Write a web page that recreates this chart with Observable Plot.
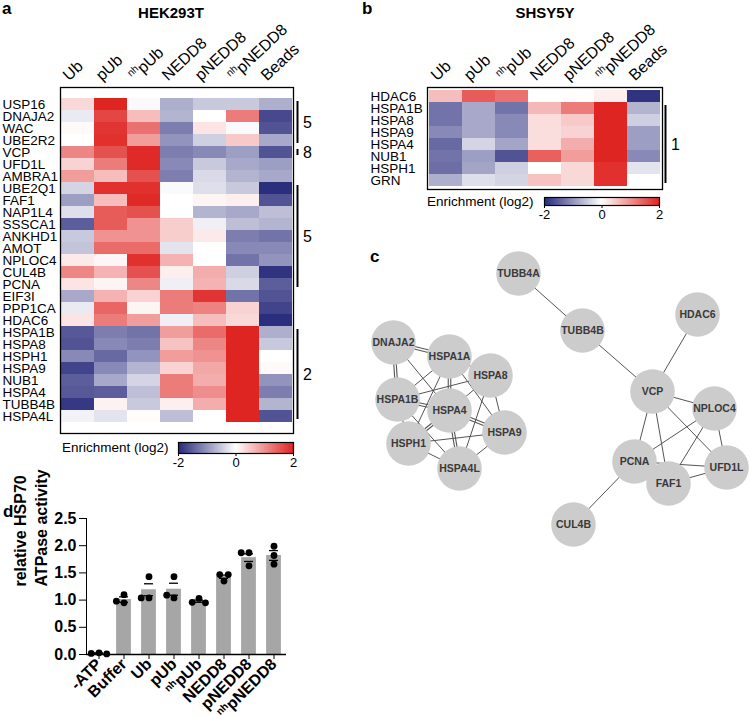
<!DOCTYPE html>
<html><head><meta charset="utf-8">
<script src="https://cdn.jsdelivr.net/npm/d3@7"></script>
<script src="https://cdn.jsdelivr.net/npm/@observablehq/plot@0.6"></script>
<style>
body{margin:0;background:#fff;}
#fig{position:relative;width:749px;height:716px;overflow:hidden;font-family:"Liberation Sans",Arial,Helvetica,sans-serif;color:#000;}
.plab{position:absolute;font-weight:bold;font-size:17px;line-height:17px;}
</style></head>
<body><div id="fig"></div>
<script>
// ---------- DATA ----------
const conditions = ["Ub","pUb","nhpUb","NEDD8","pNEDD8","nhpNEDD8","Beads"];
const hekGenes = ["USP16","DNAJA2","WAC","UBE2R2","VCP","UFD1L","AMBRA1","UBE2Q1","FAF1","NAP1L4","SSSCA1","ANKHD1","AMOT","NPLOC4","CUL4B","PCNA","EIF3I","PPP1CA","HDAC6","HSPA1B","HSPA8","HSPH1","HSPA9","NUB1","HSPA4","TUBB4B","HSPA4L"];
const hekValues = [
  [0.35, 2.0, -0.05, -0.75, -0.5, -0.5, -0.75],
  [-0.2, 1.7, 0.6, -0.7, 0.0, 1.2, -1.7],
  [0.05, 1.85, 1.3, -1.2, 0.25, -0.05, -1.6],
  [0.0, 1.9, 0.9, -1.0, -0.45, 0.5, -0.8],
  [1.1, 1.6, 1.95, -1.2, -1.1, -0.9, -1.6],
  [0.4, 1.2, 1.95, -1.1, -0.5, -0.8, -0.9],
  [0.9, 0.6, 1.6, -1.2, -0.35, -0.7, -0.8],
  [-0.4, 1.9, 1.9, -0.05, -0.3, -0.5, -1.95],
  [-0.9, 0.6, 1.95, 0.0, 0.1, 0.15, -1.6],
  [-0.3, 1.5, 1.6, 0.0, -0.7, -0.8, -0.6],
  [-1.5, 1.5, 1.0, 0.45, -0.15, -0.6, -0.7],
  [-0.5, 1.0, 1.0, 0.45, 0.2, -1.2, -1.3],
  [-0.55, 1.35, 1.35, -0.25, 0.0, -1.1, -1.1],
  [0.2, 0.08, 1.9, 0.7, 0.0, -1.3, -1.0],
  [1.1, 0.7, 1.6, 0.15, 0.75, -0.45, -1.9],
  [0.25, 0.1, 1.1, -0.15, 0.7, -0.35, -1.5],
  [-0.8, 0.7, 0.4, 1.2, 1.85, -1.3, -1.6],
  [-0.2, 1.4, 0.1, 1.2, 1.15, 0.4, -1.75],
  [0.25, 1.2, 0.9, -0.15, 0.6, 0.35, -1.95],
  [-1.55, -1.2, -1.3, 0.9, 1.35, 2.0, -0.75],
  [-1.6, -1.1, -1.2, 0.55, 1.1, 2.0, -0.5],
  [-1.1, -1.4, -1.0, 0.9, 1.0, 2.0, 0.0],
  [-1.75, -1.1, -0.7, 0.4, 0.8, 2.0, 0.05],
  [-1.5, -0.8, -0.4, 1.2, 0.75, 2.0, -1.0],
  [-1.55, -1.5, -0.6, 1.2, 1.05, 2.0, -1.2],
  [-1.85, 0.12, -0.5, 0.15, 0.75, 2.0, -0.7],
  [-0.12, -0.25, 0.03, -0.6, 0.0, 2.0, -1.6]
];
const hekBrackets = [
  {label: "5", from: "USP16", to: "UBE2R2"},
  {label: "8", from: "VCP", to: "VCP"},
  {label: "5", from: "UBE2Q1", to: "PCNA"},
  {label: "2", from: "HSPA1B", to: "HSPA4L"}
];
const shsyGenes = ["HDAC6","HSPA1B","HSPA8","HSPA9","HSPA4","NUB1","HSPH1","GRN"];
const shsyValues = [
  [0.6, 1.5, 1.3, 0.0, 0.02, 0.15, -1.9],
  [-1.3, -0.8, -1.3, 0.65, 1.2, 2.0, -0.7],
  [-1.3, -0.8, -1.1, 0.3, 0.5, 2.0, -0.45],
  [-1.1, -0.8, -1.1, 0.3, 0.4, 2.0, -0.9],
  [-1.4, -0.4, -0.85, 0.3, 0.75, 2.0, -0.9],
  [-1.3, -0.9, -1.6, 1.45, 0.9, 2.0, -1.1],
  [-1.35, -0.85, -0.45, 0.0, 0.35, 1.9, -0.25],
  [-0.75, -0.3, -0.4, 0.55, 0.35, 1.9, 0.0]
];
const shsyBrackets = [{label: "1", from: "HSPA1B", to: "GRN"}];
const colorDomain = [-2, 0, 2];
const colorTicks = [-2, 0, 2];
const colorLabel = "Enrichment (log2)";

// network layout (layout units)
const netNodes = [
  {id: "TUBB4A", x: 158, y: 53}, {id: "TUBB4B", x: 222, y: 110}, {id: "HDAC6", x: 337, y: 94},
  {id: "VCP", x: 292, y: 171}, {id: "NPLOC4", x: 354, y: 188}, {id: "PCNA", x: 274, y: 241},
  {id: "FAF1", x: 308, y: 263}, {id: "UFD1L", x: 366, y: 247}, {id: "CUL4B", x: 213, y: 304},
  {id: "DNAJA2", x: 33, y: 122}, {id: "HSPA1A", x: 89, y: 136}, {id: "HSPA8", x: 130, y: 155},
  {id: "HSPA1B", x: 37, y: 179}, {id: "HSPA4", x: 89, y: 190}, {id: "HSPA9", x: 144, y: 212},
  {id: "HSPH1", x: 48, y: 223}, {id: "HSPA4L", x: 99, y: 248}
];
const netEdges = [
  ["DNAJA2","HSPA1A",2],["DNAJA2","HSPA1B",2],["DNAJA2","HSPA4",1],["HSPA1A","HSPA1B",1],
  ["HSPA1A","HSPA8",1],["HSPA1A","HSPA4",2],["HSPA1A","HSPA9",1],["HSPA1A","HSPH1",1],
  ["HSPA1B","HSPA8",1],["HSPA1B","HSPA4",2],["HSPA1B","HSPH1",1],["HSPA1B","HSPA4L",1],
  ["HSPA8","HSPA4",1],["HSPA8","HSPA9",1],["HSPA8","HSPA4L",1],["HSPA4","HSPA9",2],
  ["HSPA4","HSPH1",2],["HSPA4","HSPA4L",2],["HSPH1","HSPA9",1],["HSPH1","HSPA4L",1],
  ["HSPA9","HSPA4L",1],
  ["TUBB4A","TUBB4B",1],["TUBB4B","VCP",1],["HDAC6","VCP",1],["VCP","NPLOC4",1],
  ["VCP","PCNA",1],["VCP","FAF1",1],["VCP","UFD1L",1],["NPLOC4","PCNA",1],
  ["NPLOC4","FAF1",1],["NPLOC4","UFD1L",1],["PCNA","FAF1",1],["PCNA","UFD1L",1],
  ["FAF1","UFD1L",1],["PCNA","CUL4B",1]
];

// ATPase assay
const atpConds = ["-ATP","Buffer","Ub","pUb","nhpUb","NEDD8","pNEDD8","nhpNEDD8"];
const atpMeans = [0.02, 1.01, 1.19, 1.20, 0.98, 1.43, 1.78, 1.82];
const atpSem = [0.01, 0.05, 0.11, 0.11, 0.02, 0.03, 0.07, 0.09];
const atpReps = [
  [0.03, 0.02, 0.01], [0.95, 1.10, 0.98], [1.43, 1.04, 1.04], [1.43, 1.04, 1.09],
  [1.03, 0.96, 0.95], [1.35, 1.47, 1.47], [1.63, 1.87, 1.87], [1.99, 1.82, 1.66]
];
const atpTicks = [0, 0.5, 1, 1.5, 2, 2.5];
const atpYTitle = "relative HSP70\nATPase activity";

// ---------- RENDER ----------
const FONT = '"Liberation Sans", Arial, Helvetica, sans-serif';
const fig = document.getElementById("fig");
const colorOpts = {type: "linear", domain: colorDomain, range: ["#26287a", "#ffffff", "#df2522"], interpolate: "rgb", clamp: true};
const NS = "http://www.w3.org/2000/svg";

function place(svg, left, top) {
  svg.style.position = "absolute";
  svg.style.left = left + "px";
  svg.style.top = top + "px";
  svg.style.overflow = "visible";
  fig.appendChild(svg);
  return svg;
}
function nhScript(svg, size, shift) {
  svg.querySelectorAll("text").forEach(t => {
    const holder = t.querySelector("tspan") || t;
    const s = holder.textContent;
    if (s.startsWith("nh")) {
      holder.textContent = "";
      const a = document.createElementNS(NS, "tspan");
      a.setAttribute("font-size", size);
      a.setAttribute("dy", String(-shift));
      a.textContent = "nh";
      const b = document.createElementNS(NS, "tspan");
      b.setAttribute("dy", String(shift));
      b.textContent = s.slice(2);
      holder.append(a, b);
    }
  });
}
function label(txt, left, top) {
  const d = document.createElement("div");
  d.className = "plab"; d.textContent = txt;
  d.style.left = left + "px"; d.style.top = top + "px";
  fig.appendChild(d);
}

function heatmap({genes, values, brackets, title, left, top, width, height, mL, mT, mR, mB, labelDx, titleDx}) {
  const cells = genes.flatMap((g, i) => conditions.map((c, j) => ({gene: g, cond: c, value: values[i][j]})));
  const rowH = (height - mT - mB) / genes.length;
  const idx = g => genes.indexOf(g);
  const svg = Plot.plot({
    width, height, marginLeft: mL, marginTop: mT, marginRight: mR, marginBottom: mB,
    x: {domain: conditions, padding: 0, axis: null},
    y: {domain: genes, padding: 0, axis: null},
    color: colorOpts,
    style: {fontFamily: FONT, fontSize: "13.5px", background: "transparent", overflow: "visible"},
    marks: [
      Plot.cell(cells, {x: "cond", y: "gene", fill: "value", shapeRendering: "crispEdges"}),
      Plot.frame({stroke: "#000", strokeWidth: 1.3}),
      Plot.text(genes, {y: d => d, frameAnchor: "left", textAnchor: "start", dx: labelDx, fontSize: 13.5}),
      Plot.text(conditions, {x: d => d, frameAnchor: "top", lineAnchor: "bottom", textAnchor: "start", rotate: -43, dx: -9, dy: -6, fontSize: 16}),
      Plot.text([title], {frameAnchor: "top", lineAnchor: "middle", dy: -74, dx: titleDx, fontWeight: "bold", fontSize: 15}),
      Plot.ruleX(brackets, {x: () => "Beads", y1: "from", y2: "to", dx: 21.5, insetTop: 3, insetBottom: 3, stroke: "#000", strokeWidth: 2}),
      ...brackets.map(b => {
        const i1 = idx(b.from), i2 = idx(b.to);
        const mid = Math.floor((i1 + i2) / 2);
        return Plot.text([b], {x: () => "Beads", y: () => genes[mid], text: "label", dx: 27, dy: ((i1 + i2) % 2) * rowH / 2, textAnchor: "start", fontSize: 16});
      })
    ]
  });
  nhScript(svg, "10px", 6);
  return place(svg, left, top);
}

function colorbar({left, top, width, height, mL, mR, mT, mB, labelDx}) {
  const ramp = d3.range(colorDomain[0], colorDomain[2], 0.02); // gradient key of the color scale
  const svg = Plot.plot({
    width, height, marginLeft: mL, marginRight: mR, marginTop: mT, marginBottom: mB,
    x: {domain: [colorDomain[0], colorDomain[2]], ticks: colorTicks, tickFormat: d => String(d), tickSize: 3, tickPadding: 1, label: null},
    y: {domain: [0, 1], axis: null},
    color: colorOpts,
    style: {fontFamily: FONT, fontSize: "13px", background: "transparent", overflow: "visible"},
    marks: [
      Plot.rect(ramp, {x1: d => d, x2: d => d + 0.025, y1: 0, y2: 1, fill: d => d + 0.01, shapeRendering: "crispEdges"}),
      Plot.frame({stroke: "#000", strokeWidth: 1.2}),
      Plot.text([colorLabel], {frameAnchor: "left", textAnchor: "end", dx: labelDx, fontSize: 13.5})
    ]
  });
  return place(svg, left, top);
}

// Panel a
heatmap({genes: hekGenes, values: hekValues, brackets: hekBrackets, title: "HEK293T",
  left: 0, top: 0, width: 330, height: 470, mL: 60, mT: 87, mR: 37, mB: 37, labelDx: -58, titleDx: -6});
colorbar({left: 0, top: 430, width: 330, height: 40, mL: 178, mR: 37, mT: 12, mB: 17, labelDx: -10});

// Panel b
heatmap({genes: shsyGenes, values: shsyValues, brackets: shsyBrackets, title: "SHSY5Y",
  left: 360, top: 0, width: 330, height: 230, mL: 67, mT: 87, mR: 28, mB: 41, labelDx: -57, titleDx: 0});
colorbar({left: 360, top: 185, width: 330, height: 40, mL: 184, mR: 31, mT: 12, mB: 20, labelDx: -11});

// Panel c
{
  const byId = new Map(netNodes.map(n => [n.id, n]));
  const links = netEdges.map(([a, b, k]) => ({a: byId.get(a), b: byId.get(b), k}));
  const lk = {x1: d => d.a.x, y1: d => d.a.y, x2: d => d.b.x, y2: d => d.b.y};
  const svg = Plot.plot({
    width: 389, height: 330, marginLeft: 0, marginRight: 0, marginTop: 0, marginBottom: 0,
    x: {domain: [0, 389], range: [0, 389], axis: null},
    y: {domain: [0, 330], range: [0, 330], axis: null},
    style: {fontFamily: FONT, background: "transparent", overflow: "visible"},
    marks: [
      Plot.link(links.filter(d => d.k === 2), {...lk, stroke: "#555", strokeWidth: 3.6}),
      Plot.link(links.filter(d => d.k === 2), {...lk, stroke: "#fff", strokeWidth: 1.4}),
      Plot.link(links.filter(d => d.k === 1), {...lk, stroke: "#555", strokeWidth: 1}),
      Plot.dot(netNodes, {x: "x", y: "y", r: 22.3, fill: "#cccccc"}),
      Plot.text(netNodes, {x: "x", y: "y", text: "id", fontWeight: "bold", fontSize: 10.5, fill: "#3a3a3a"})
    ]
  });
  place(svg, 360, 220);
}

// Panel d
{
  const bars = atpConds.map((c, i) => ({cond: c, mean: atpMeans[i], sem: atpSem[i]}));
  const pts = atpConds.flatMap((c, i) => atpReps[i].map(v => ({cond: c, value: v})));
  const svg = Plot.plot({
    width: 300, height: 236, marginLeft: 85, marginRight: 13, marginTop: 38, marginBottom: 62,
    fx: {domain: atpConds, padding: 0, axis: "bottom", tickRotate: -45, tickSize: 5, tickPadding: 2, label: null},
    y: {domain: [0, 2.5], ticks: atpTicks, tickFormat: d3.format(".1f"), tickSize: 7, tickPadding: 3, line: true, label: null},
    style: {fontFamily: FONT, fontSize: "16px", fontWeight: "bold", background: "transparent", overflow: "visible"},
    marks: [
      Plot.barY(bars, {fx: "cond", y: "mean", fill: "#a6a6a6", insetLeft: 5.1, insetRight: 5.1}),
      Plot.ruleX(bars, {fx: "cond", y1: d => d.mean - d.sem, y2: d => d.mean + d.sem, stroke: "#000", strokeWidth: 1.3}),
      Plot.tickY(bars, {fx: "cond", y: d => d.mean + d.sem, insetLeft: 8, insetRight: 8, strokeWidth: 1.3}),
      Plot.tickY(bars, {fx: "cond", y: d => d.mean - d.sem, insetLeft: 8, insetRight: 8, strokeWidth: 1.3}),
      Plot.dot(pts, Plot.dodgeX("middle", {fx: "cond", y: "value", r: 3.4, fill: "#000", padding: 0.5})),
      Plot.ruleY([0], {stroke: "#000", strokeWidth: 1.5}),
      Plot.text([atpYTitle], {fx: () => atpConds[0], frameAnchor: "left", rotate: -90, dx: -57, lineHeight: 1.35, fontWeight: "bold", fontSize: 16})
    ]
  });
  nhScript(svg, "10px", 5);
  place(svg, 0, 480);
}

label("a", 2, 0);
label("b", 362, 0);
label("c", 370, 248);
label("d", 3, 503);
</script></body></html>
